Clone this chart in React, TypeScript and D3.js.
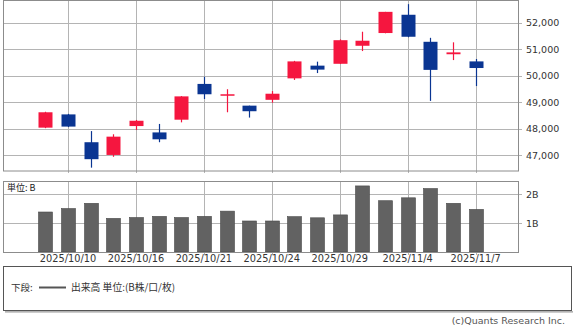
import React from "react";
import * as d3 from "d3";

const dates = ["2025/10/9","2025/10/10","2025/10/14","2025/10/15","2025/10/16","2025/10/17","2025/10/20","2025/10/21","2025/10/22","2025/10/23","2025/10/24","2025/10/27","2025/10/28","2025/10/29","2025/10/30","2025/10/31","2025/11/4","2025/11/5","2025/11/6","2025/11/7"];
const opens  = [48040,48540,47490,47010,48100,47860,48340,49690,49270,48870,49090,49900,50380,50450,51130,51610,52300,51280,50810,50540];
const closes = [48620,48080,46850,47700,48300,47600,49220,49300,49300,48660,49320,50540,50230,51340,51320,52410,51470,50220,50880,50290];
const highs  = [48640,48560,47910,47790,48330,48180,49230,49960,49490,48870,49420,50560,50530,51370,51660,52410,52700,51430,51260,50630];
const lows   = [48020,48060,46530,46940,47950,47490,48240,49120,48620,48420,48980,49840,50100,50440,50930,51600,51450,49050,50590,49610];
const volumes = [1.38,1.50,1.68,1.16,1.19,1.23,1.19,1.23,1.41,1.07,1.07,1.22,1.18,1.28,2.28,1.77,1.87,2.19,1.68,1.47];
const xLabels = ["2025/10/10","2025/10/16","2025/10/21","2025/10/24","2025/10/29","2025/11/4","2025/11/7"];
const priceTicks = [47000,48000,49000,50000,51000,52000];
const volTicks = [1,2];
const volTickLabels = ["1B","2B"];

const W = 575, H = 326;
const L = 3, R = 518;
const pTop = 0.5, pBot = 171;
const vTop = 181, vBot = 252;
const UP = "#f5163f", DOWN = "#0a3592";
const GRID = "#b4b4b4", BORDER = "#8c8c8c";
const NUM_FONT = "DejaVu Sans, Verdana, sans-serif";
const CJK_FONT = "'Noto Sans CJK JP', sans-serif";

export default function App() {
  const x = d3.scalePoint<string>().domain(dates).range([L, R]).padding(1.87);
  const y = d3.scaleLinear().domain([46404, 52857]).range([171, 0]);
  const yv = d3.scaleLinear().domain([0, 2.45]).range([vBot, vTop]);
  const bw = 14;

  return (
    <svg width={W} height={H} style={{ position: "absolute", left: 0, top: 0, background: "#fff" }}
      xmlns="http://www.w3.org/2000/svg">
      {/* price panel grid */}
      {priceTicks.map((t) => (
        <g key={"pt" + t}>
          <line x1={L} x2={R + 4} y1={Math.round(y(t)) + 0.5} y2={Math.round(y(t)) + 0.5} stroke={GRID} />
          <text x={R + 8} y={y(t) + 3.5} fontSize={9.5} fontFamily={NUM_FONT} fill="#333">{d3.format(",")(t)}</text>
        </g>
      ))}
      {xLabels.map((d) => (
        <line key={"pv" + d} x1={Math.round(x(d)!) + 0.5} x2={Math.round(x(d)!) + 0.5} y1={pTop} y2={pBot + 2} stroke={GRID} />
      ))}
      <rect x={L + 0.5} y={pTop} width={R - L} height={pBot - pTop} fill="none" stroke={BORDER} />

      {/* candles */}
      {dates.map((d, i) => {
        const up = closes[i] >= opens[i];
        const c = up ? UP : DOWN;
        const cx = Math.round(x(d)!) + 0.5;
        const top = y(Math.max(opens[i], closes[i]));
        const bot = y(Math.min(opens[i], closes[i]));
        return (
          <g key={"c" + i}>
            <line x1={cx} x2={cx} y1={y(highs[i])} y2={y(lows[i])} stroke={c} strokeWidth={1.2} />
            <rect x={cx - bw / 2} y={top} width={bw} height={Math.max(bot - top, 1.5)} fill={c} />
          </g>
        );
      })}

      {/* volume panel */}
      {volTicks.map((t, i) => (
        <g key={"vt" + t}>
          <line x1={L} x2={R + 4} y1={Math.round(yv(t)) + 0.5} y2={Math.round(yv(t)) + 0.5} stroke={GRID} />
          <text x={R + 8} y={yv(t) + 3.5} fontSize={9.5} fontFamily={NUM_FONT} fill="#333">{volTickLabels[i]}</text>
        </g>
      ))}
      {xLabels.map((d) => (
        <line key={"vv" + d} x1={Math.round(x(d)!) + 0.5} x2={Math.round(x(d)!) + 0.5} y1={vTop} y2={vBot + 3} stroke={GRID} />
      ))}
      {dates.map((d, i) => (
        <rect key={"v" + i} x={Math.round(x(d)!) + 0.5 - bw / 2} y={yv(volumes[i])} width={bw} height={vBot - yv(volumes[i])}
          fill="#626262" stroke="#4a4a4a" strokeWidth={0.6} />
      ))}
      <rect x={L + 0.5} y={vTop + 0.5} width={R - L} height={vBot - vTop} fill="none" stroke={BORDER} />
      <text x={7} y={191} fontSize={9} fontFamily={CJK_FONT} fill="#222">単位: B</text>

      {/* x labels */}
      {xLabels.map((d) => (
        <text key={"xl" + d} x={x(d)!} y={262} textAnchor="middle" fontSize={9.8} fontFamily={NUM_FONT} fill="#333">{d}</text>
      ))}

      {/* legend */}
      <rect x={3.5} y={266.5} width={568} height={44} fill="#fff" stroke="#555" strokeWidth={1} />
      <line x1={5} x2={573} y1={311.8} y2={311.8} stroke="#999" strokeWidth={1.2} />
      <text x={11} y={291} fontSize={9.5} fontFamily={CJK_FONT} fill="#333">下段:</text>
      <line x1={39} x2={66} y1={287.5} y2={287.5} stroke="#555" strokeWidth={2} />
      <text x={71} y={291} fontSize={9.8} fontFamily={CJK_FONT} fill="#333">出来高 単位:(B株/口/枚)</text>

      <text x={565} y={323.5} textAnchor="end" fontSize={9.5} fontFamily={NUM_FONT} fill="#555">(c)Quants Research Inc.</text>
    </svg>
  );
}
